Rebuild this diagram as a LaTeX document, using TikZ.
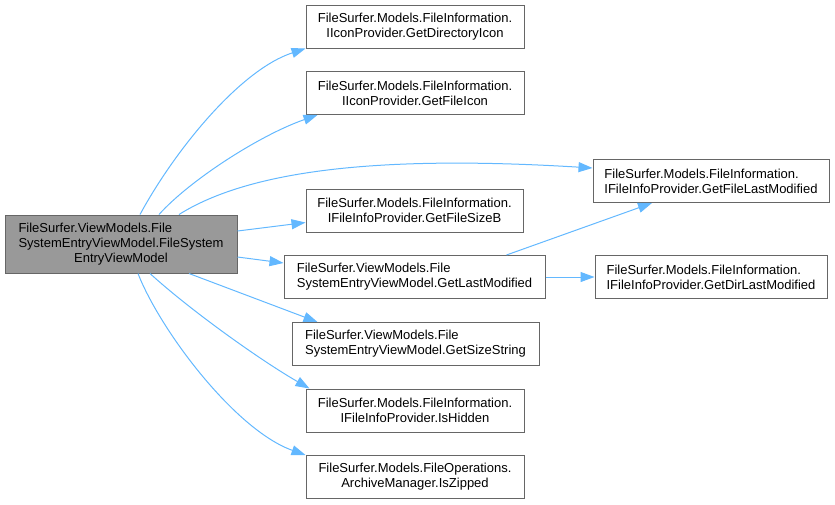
\documentclass[tikz,border=0pt]{standalone}
\usepackage{fontspec}
\setmainfont{Liberation Sans}
\usetikzlibrary{arrows.meta,calc}
\definecolor{edgeblue}{HTML}{63B8FF}
\definecolor{boxgray}{HTML}{666666}
\definecolor{rootfill}{HTML}{999999}
\begin{document}
\begin{tikzpicture}[x=1pt,y=-1pt,
  box/.style={draw=boxgray, line width=1pt, fill=white, inner sep=0pt,
    minimum height=43pt, font=\fontsize{13}{15}\selectfont, align=center},
  leftbox/.style={box, align=left},
  edge/.style={draw=edgeblue, line width=1pt, -{Triangle[length=14pt,width=10pt]}}]
\useasboundingbox (0,0) rectangle (835,504);

\node[box, fill=rootfill, minimum width=232pt, minimum height=58pt] (root) at (121,244)
  {\begin{tabular}{@{}l@{}}FileSurfer.ViewModels.File\\SystemEntryViewModel.FileSystem\\\multicolumn{1}{@{}c@{}}{EntryViewModel}\end{tabular}};

\node[box, minimum width=218pt] (n1) at (415,26.5)
  {FileSurfer.Models.FileInformation.\\IIconProvider.GetDirectoryIcon};
\node[box, minimum width=218pt] (n2) at (415,93)
  {FileSurfer.Models.FileInformation.\\IIconProvider.GetFileIcon};
\node[box, minimum width=217pt] (n4) at (414.5,210.5)
  {FileSurfer.Models.FileInformation.\\IFileInfoProvider.GetFileSizeB};
\node[leftbox, minimum width=261pt] (n5) at (414.5,277)
  {FileSurfer.ViewModels.File\\SystemEntryViewModel.GetLastModified};
\node[leftbox, minimum width=247pt] (n6) at (415.5,344)
  {FileSurfer.ViewModels.File\\SystemEntryViewModel.GetSizeString};
\node[box, minimum width=218pt] (n7) at (415,410.5)
  {FileSurfer.Models.FileInformation.\\IFileInfoProvider.IsHidden};
\node[box, minimum width=218pt] (n8) at (415,477)
  {FileSurfer.Models.FileOperations.\\ArchiveManager.IsZipped};
\node[leftbox, minimum width=236pt] (n3) at (711,181)
  {FileSurfer.Models.FileInformation.\\IFileInfoProvider.GetFileLastModified};
\node[leftbox, minimum width=232pt] (n9) at (711,277)
  {FileSurfer.Models.FileInformation.\\IFileInfoProvider.GetDirLastModified};

\draw[edge] ([xshift=19pt]root.north) .. controls (175,150) and (240,70) .. (n1.south west);
\draw[edge] ([xshift=38pt]root.north) .. controls (190,180) and (260,135) .. ([xshift=12pt]n2.south west);
\draw[edge] ([xshift=58pt]root.north) .. controls (250,170) and (380,155) .. ([yshift=13pt]n3.west);
\draw[edge] ([yshift=13pt]root.east) -- ([yshift=-12pt]n4.west);
\draw[edge] ([yshift=-13pt]root.east) -- ([yshift=14pt]n5.west);
\draw[edge] ([xshift=68pt]root.south) -- ([xshift=26pt]n6.north west);
\draw[edge] ([xshift=29pt]root.south) .. controls (190,310) and (260,360) .. ([xshift=4pt]n7.north west);
\draw[edge] ([xshift=17pt]root.south) .. controls (160,330) and (235,430) .. (n8.north west);
\draw[edge] ([xshift=92pt]n5.north) -- ([xshift=-59pt]n3.south);
\draw[edge] (n5.east) -- (n9.west);
\end{tikzpicture}
\end{document}
